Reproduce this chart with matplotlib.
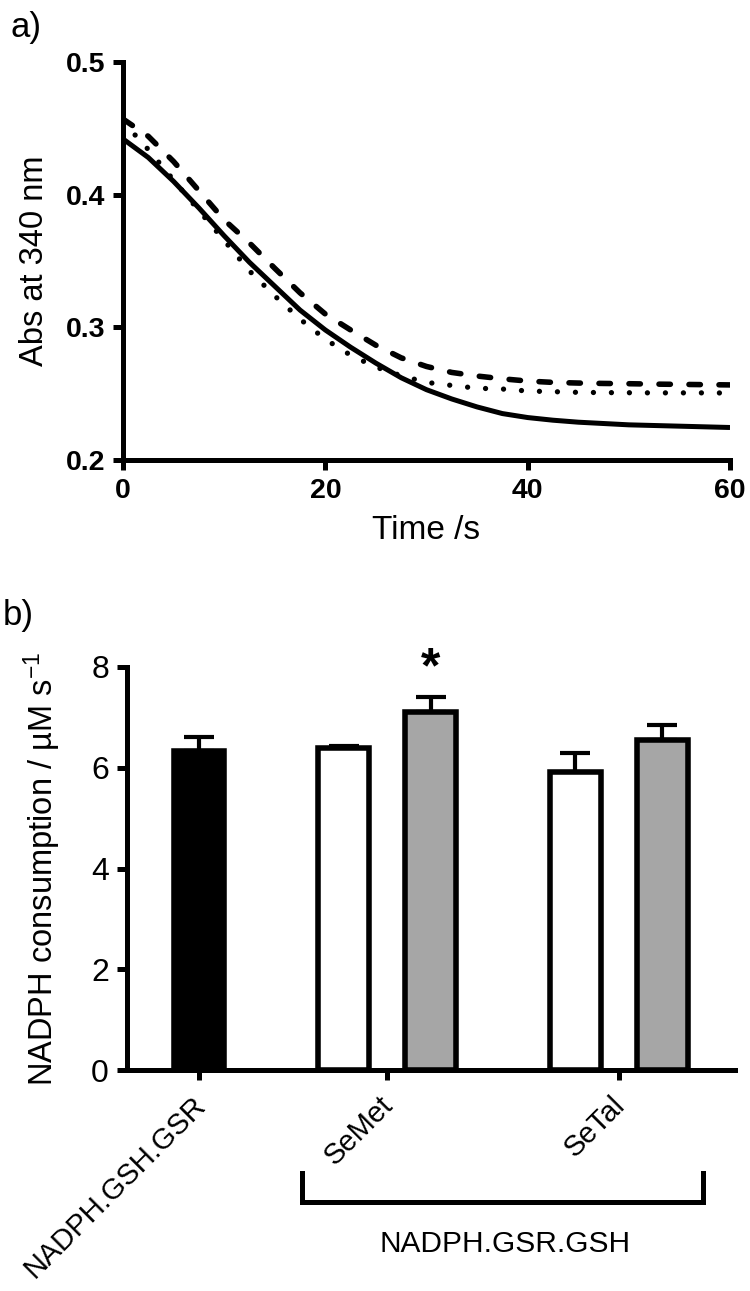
import matplotlib
matplotlib.use('Agg')
import matplotlib.pyplot as plt
import matplotlib.transforms as mtransforms
import numpy as np

plt.rcParams['font.family'] = ['Liberation Sans', 'DejaVu Sans']
plt.rcParams['mathtext.fontset'] = 'custom'
plt.rcParams['mathtext.rm'] = 'Liberation Sans'
plt.rcParams['mathtext.it'] = 'Liberation Sans:italic'
plt.rcParams['mathtext.bf'] = 'Liberation Sans:bold'

# ---------------- data: panel a ----------------
time_s = [0, 2.5, 5, 7.5, 10, 12.5, 15, 17.5, 20, 22.5, 25, 27.5, 30,
          32.5, 35, 37.5, 40, 42.5, 45, 47.5, 50, 52.5, 55, 57.5, 60]
abs_solid = [0.442, 0.428, 0.410, 0.390, 0.369, 0.349, 0.331, 0.313, 0.298,
             0.285, 0.273, 0.262, 0.253, 0.246, 0.240, 0.235, 0.232, 0.230,
             0.2285, 0.2275, 0.2265, 0.226, 0.2255, 0.225, 0.2245]
abs_dashed = [0.457, 0.444, 0.425, 0.403, 0.381, 0.3636, 0.3445, 0.326, 0.310,
              0.298, 0.2865, 0.277, 0.2705, 0.266, 0.2633, 0.2612, 0.2595,
              0.2585, 0.258, 0.2577, 0.2575, 0.2572, 0.257, 0.2568, 0.2566]
abs_dotted = [0.455, 0.434, 0.411, 0.388, 0.3655, 0.3425, 0.3237, 0.3062, 0.291,
              0.279, 0.270, 0.2635, 0.2585, 0.2562, 0.2541, 0.2535, 0.252,
              0.2515, 0.251, 0.2508, 0.2507, 0.2506, 0.2506, 0.2506, 0.2505]
time_ticks = [0, 20, 40, 60]
abs_ticks = [0.2, 0.3, 0.4, 0.5]

# ---------------- data: panel b ----------------
group_names = ['NADPH.GSH.GSR', 'SeMet', 'SeTal']
bar_values = [6.33, 6.39, 7.11, 5.92, 6.55]
bar_errors = [0.28, 0.04, 0.30, 0.37, 0.30]
bar_colors = ['black', 'white', '#a6a6a6', 'white', '#a6a6a6']
rate_ticks = [0, 2, 4, 6, 8]
bracket_label = 'NADPH.GSR.GSH'
signif_mark = '*'

# ---------------- figure ----------------
W, H = 750, 1291
fig = plt.figure(figsize=(W / 100, H / 100), dpi=100)

SPW = 3.6
# panel a
ax1 = fig.add_axes([123 / W, 1 - 460 / H, (730 - 123) / W, (460 - 62) / H])
ax1.plot(time_s, abs_solid, color='black', lw=3.6, solid_capstyle='butt')
ax1.plot(time_s, abs_dashed, color='black', lw=4.0,
         linestyle=(0, (2.05, 3.35)), dash_capstyle='round')
ax1.plot(time_s, abs_dotted, color='black', lw=3.8,
         linestyle=(0, (0.01, 3.4)), dash_capstyle='round')
ax1.set_xlim(0, 60)
ax1.set_ylim(0.2, 0.5)
ax1.set_xticks(time_ticks)
ax1.set_xticklabels([str(t) for t in time_ticks])
ax1.set_yticks(abs_ticks)
ax1.set_yticklabels([f'{v:.1f}' for v in abs_ticks])
for s in ['top', 'right']:
    ax1.spines[s].set_visible(False)
for s in ['left', 'bottom']:
    ax1.spines[s].set_linewidth(SPW)
ax1.tick_params(axis='both', width=SPW, length=7, labelsize=20.5, pad=6)
for lbl in ax1.get_xticklabels() + ax1.get_yticklabels():
    lbl.set_fontweight('bold')
ax1.set_xlabel('Time /s', fontsize=24, labelpad=8)
ax1.set_ylabel('Abs at 340 nm', fontsize=23.5, labelpad=11)

# panel b
ax2 = fig.add_axes([127 / W, 1 - 1070 / H, (735 - 127) / W, (1070 - 667) / H])
group_centers = [0.0, 2.16, 4.825]
pos = [group_centers[0],
       group_centers[1] - 0.5, group_centers[1] + 0.5,
       group_centers[2] - 0.5, group_centers[2] + 0.5]
ax2.errorbar(pos, bar_values, yerr=[np.zeros(len(bar_values)), bar_errors],
             fmt='none', ecolor='black', elinewidth=3, capsize=10.5, capthick=3,
             zorder=2)
ax2.bar(pos, bar_values, width=0.58, color=bar_colors, edgecolor='black',
        linewidth=4, zorder=3)
ax2.set_xlim(-0.83, 6.16)
ax2.set_ylim(0, 8)
ax2.set_yticks(rate_ticks)
ax2.set_yticklabels([str(v) for v in rate_ticks])
ax2.set_xticks(group_centers)
ax2.set_xticklabels(group_names, rotation=45, ha='right', va='top',
                    rotation_mode='anchor')
for s in ['top', 'right']:
    ax2.spines[s].set_visible(False)
for s in ['left', 'bottom']:
    ax2.spines[s].set_linewidth(SPW)
ax2.tick_params(axis='y', width=SPW, length=7, labelsize=23, pad=6)
ax2.tick_params(axis='x', width=SPW, length=7, labelsize=21, pad=8)
off = mtransforms.ScaledTranslation(-8 / 100, 0, fig.dpi_scale_trans)
for lbl in ax2.get_xticklabels():
    lbl.set_transform(lbl.get_transform() + off)
ax2.set_ylabel('NADPH consumption / µM s$^{-1}$', fontsize=23.5, labelpad=20)

ax2.text(pos[2], 7.95, signif_mark, fontsize=36, fontweight='bold',
         ha='center', va='center', clip_on=False)

ax2.plot([1.18, 1.18, 5.79, 5.79], [-2.04, -2.62, -2.62, -2.04],
         color='black', lw=SPW, clip_on=False, solid_joinstyle='miter')
ax2.text(3.52, -3.45, bracket_label, ha='center', va='center', fontsize=21.5)

fig.text(10 / W, 1 - 27 / H, 'a)', fontsize=25, ha='left', va='center')
fig.text(3 / W, 1 - 616 / H, 'b)', fontsize=25, ha='left', va='center')

fig.savefig('out.png', dpi=100)
